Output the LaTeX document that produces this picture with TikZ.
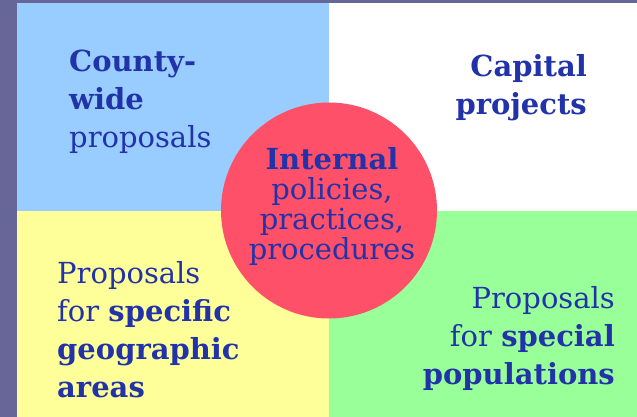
\documentclass[tikz,border=0pt]{standalone}
\usepackage{fontspec}
\setmainfont{DejaVu Serif}
\usepackage{xcolor}
\usepackage{tikz}
\definecolor{edgeband}{HTML}{666699}
\definecolor{cblue}{HTML}{99CCFF}
\definecolor{cyellow}{HTML}{FFFF99}
\definecolor{cgreen}{HTML}{99FF99}
\definecolor{cred}{HTML}{FF5069}
\definecolor{ink}{HTML}{2233AA}

\begin{document}
\begin{tikzpicture}[x=1pt,y=-1pt,
	every node/.style={inner sep=0pt,text=ink,font=\fontsize{29}{38}\selectfont},
	hubtext/.style={align=center,font=\fontsize{29}{30}\selectfont},]
					\useasboundingbox (0,0) rectangle (637,417);
					\fill[edgeband] (0,0) rectangle (637,417);
					\fill[cblue] (17,3) rectangle (329,211);
					\fill[white] (329,3) rectangle (637,211);
					\fill[cyellow] (17,211) rectangle (329,417);
					\fill[cgreen] (329,211) rectangle (637,417);
					\node[circle,fill=cred,minimum size=216pt] (hub) at (329,210.5) {};
					\node[hubtext,anchor=base] (internal) at (332,259) {\textbf{Internal}\\policies,\\practices,\\procedures};
					\node[anchor=base west,align=left] (countywide) at (69,147) {\textbf{County-}\\\textbf{wide}\\proposals};
					\node[anchor=base east,align=right] (capital) at (587,115) {\textbf{Capital}\\\textbf{projects}};
					\node[anchor=base west,align=left] (geographic) at (57,397) {Proposals\\for \textbf{specific}\\\textbf{geographic}\\\textbf{areas}};
					\node[anchor=base east,align=right] (populations) at (615,384) {Proposals\\for \textbf{special}\\\textbf{populations}};
				\end{tikzpicture}
\end{document}
